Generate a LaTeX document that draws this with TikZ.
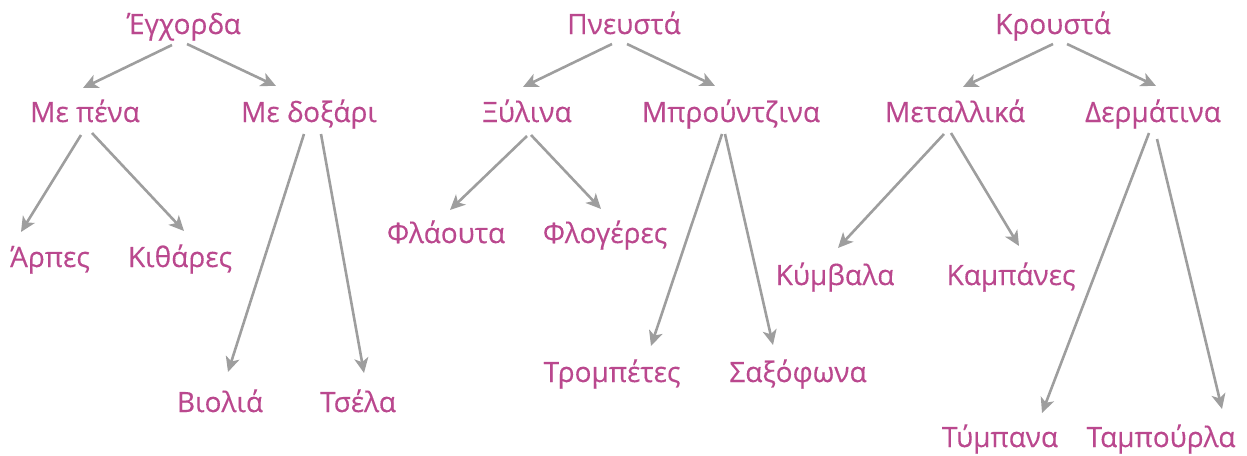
\documentclass[tikz,border=0pt]{standalone}
\usepackage{fontspec}
\setmainfont{Open Sans}
\newfontfamily\labelfont{Open Sans}[FakeBold=0.3]
\usepackage{tikz}
\usetikzlibrary{arrows.meta}
\usetikzlibrary{calc}
\definecolor{labelpink}{RGB}{186,72,142}
\definecolor{arrowgray}{RGB}{158,158,158}

\begin{document}
\begin{tikzpicture}[x=0.5pt, y=-0.5pt,
			label/.style={anchor=base, inner sep=0pt, text=labelpink, font=\labelfont\fontsize{14}{17}\selectfont},
			arrow/.style={draw=arrowgray, line width=1.3pt, -{Stealth[length=7.5pt, width=7pt, inset=2pt]}}]
			\useasboundingbox (0,0) rectangle (1247,455);
			
			\node[label](egxorda) at (184, 34) {Έγχορδα};
			\node[label](mepena) at (85, 122) {Με πένα};
			\node[label](medoxari) at (309, 122) {Με δοξάρι};
			\node[label](arpes) at (50, 267) {Άρπες};
			\node[label](kithares) at (180, 267) {Κιθάρες};
			\node[label](violia) at (220, 412) {Βιολιά};
			\node[label](tsela) at (358, 412) {Τσέλα};
			\draw[arrow] ($(egxorda.base)+(-12,11)$) -- ($(mepena.base)+(-2,-34)$);
			\draw[arrow] ($(egxorda.base)+(3,10)$) -- ($(medoxari.base)+(-33,-36)$);
			\draw[arrow] ($(mepena.base)+(-4,13)$) -- ($(arpes.base)+(-29,-35)$);
			\draw[arrow] ($(mepena.base)+(7,11)$) -- ($(kithares.base)+(4,-36)$);
			\draw[arrow] ($(medoxari.base)+(-5,12)$) -- ($(violia.base)+(8,-40)$);
			\draw[arrow] ($(medoxari.base)+(12,12)$) -- ($(tsela.base)+(6,-39)$);
			
			\node[label](pneusta) at (624, 34) {Πνευστά};
			\node[label](xylina) at (527, 122) {Ξύλινα};
			\node[label](brountzina) at (731, 122) {Μπρούντζινα};
			\node[label](flaouta) at (446, 243) {Φλάουτα};
			\node[label](flogeres) at (605, 243) {Φλογέρες};
			\node[label](trompetes) at (612, 382) {Τρομπέτες};
			\node[label](saxofona) at (798, 382) {Σαξόφωνα};
			\draw[arrow] ($(pneusta.base)+(-12,10)$) -- ($(xylina.base)+(-4,-35)$);
			\draw[arrow] ($(pneusta.base)+(3,10)$) -- ($(brountzina.base)+(-16,-36)$);
			\draw[arrow] ($(xylina.base)+(0,14)$) -- ($(flaouta.base)+(4,-33)$);
			\draw[arrow] ($(xylina.base)+(4,13)$) -- ($(flogeres.base)+(-4,-34)$);
			\draw[arrow] ($(brountzina.base)+(-9,12)$) -- ($(trompetes.base)+(39,-36)$);
			\draw[arrow] ($(brountzina.base)+(-6,12)$) -- ($(saxofona.base)+(-25,-37)$);
			
			\node[label](krousta) at (1053, 34) {Κρουστά};
			\node[label](metallika) at (955, 122) {Μεταλλικά};
			\node[label](dermatina) at (1153, 122) {Δερμάτινα};
			\node[label](kymvala) at (835, 285) {Κύμβαλα};
			\node[label](kampanes) at (1011, 285) {Καμπάνες};
			\node[label](tympana) at (1000, 447) {Τύμπανα};
			\node[label](tampourla) at (1161, 447) {Ταμπούρλα};
			\draw[arrow] ($(krousta.base)+(0,10)$) -- ($(metallika.base)+(8,-35)$);
			\draw[arrow] ($(krousta.base)+(14,10)$) -- ($(dermatina.base)+(3,-36)$);
			\draw[arrow] ($(metallika.base)+(-11,12)$) -- ($(kymvala.base)+(3,-37)$);
			\draw[arrow] ($(metallika.base)+(-4,11)$) -- ($(kampanes.base)+(8,-39)$);
			\draw[arrow] ($(dermatina.base)+(-4,11)$) -- ($(tympana.base)+(42,-34)$);
			\draw[arrow] ($(dermatina.base)+(4,17)$) -- ($(tampourla.base)+(61,-38)$);
			\end{tikzpicture}
\end{document}
